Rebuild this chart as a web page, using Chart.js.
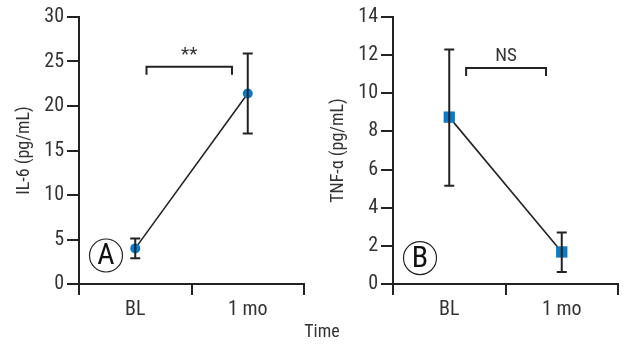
<!DOCTYPE html>
<html>
<head>
<meta charset="utf-8">
<script src="https://cdn.jsdelivr.net/npm/chart.js@4/dist/chart.umd.min.js"></script>
<style>
  body { margin: 0; background: #fff; }
  #wrap { position: relative; width: 628px; height: 344px; }
  .box { position: absolute; top: 0; width: 314px; height: 344px; }
  #timeLabel { position: absolute; left: 0; width: 644px; top: 320px; text-align: center;
    font: 18px 'Liberation Sans Narrow', 'Roboto Condensed', Roboto, sans-serif; color: #333; }
</style>
</head>
<body>
<div id="wrap">
  <div class="box" style="left:0"><canvas id="il6Chart"></canvas></div>
  <div class="box" style="left:314px"><canvas id="tnfChart"></canvas></div>
  <div id="timeLabel">Time</div>
</div>
<script>
// Categories
const timepoints = ["BL", "1 mo"]

// IL-6 (pg/mL): mean, upper and lower error bar ends
const il6Mean = [4.0, 21.4]
const il6Upper = [5.1, 25.9]
const il6Lower = [2.9, 16.9]

// TNF-alpha (pg/mL)
const tnfMean = [8.75, 1.68]
const tnfUpper = [12.3, 2.7]
const tnfLower = [5.15, 0.63]

const fontFamily = "'Liberation Sans Narrow', 'Roboto Condensed', Roboto, sans-serif"
const ink = "#222"
const blue = "#0a7bc8"

// Draws error bars, the significance bracket and the panel letter
const extrasPlugin = {
  id: "extras",
  afterDatasetsDraw(chart, args, opts) {
    const ctx = chart.ctx
    const xs = chart.scales.x
    const ys = chart.scales.y
    ctx.save()
    ctx.strokeStyle = ink
    ctx.lineWidth = 2
    // error bars
    opts.upper.forEach((up, i) => {
      const x = xs.getPixelForValue(i)
      const yTop = ys.getPixelForValue(up)
      const yBot = ys.getPixelForValue(opts.lower[i])
      ctx.beginPath()
      ctx.moveTo(x, yTop); ctx.lineTo(x, yBot)
      ctx.moveTo(x - 5, yTop); ctx.lineTo(x + 5, yTop)
      ctx.moveTo(x - 5, yBot); ctx.lineTo(x + 5, yBot)
      ctx.stroke()
    })
    // bracket
    const b = opts.bracket
    const bx1 = xs.getPixelForValue(b.from)
    const bx2 = xs.getPixelForValue(b.to)
    const by = ys.getPixelForValue(b.y)
    const byLeg = ys.getPixelForValue(b.leg)
    ctx.beginPath()
    ctx.moveTo(bx1, byLeg); ctx.lineTo(bx1, by); ctx.lineTo(bx2, by); ctx.lineTo(bx2, byLeg)
    ctx.stroke()
    ctx.fillStyle = "#333"
    ctx.font = "19px " + fontFamily
    ctx.textAlign = "center"
    ctx.textBaseline = "bottom"
    ctx.fillText(b.text, (bx1 + bx2) / 2, by - 2)
    // panel letter
    const lx = xs.getPixelForValue(opts.letter.x)
    const ly = ys.getPixelForValue(opts.letter.y)
    ctx.lineWidth = 1.2
    ctx.beginPath()
    ctx.arc(lx, ly, 16.5, 0, Math.PI * 2)
    ctx.stroke()
    ctx.fillStyle = "#111"
    ctx.font = "30px " + fontFamily
    ctx.textBaseline = "middle"
    ctx.fillText(opts.letter.text, lx, ly + 1)
    ctx.restore()
  },
}

function makeChart(id, mean, upper, lower, yMax, step, yTitle, pointStyle, radius, bracket, letter) {
  return new Chart(document.getElementById(id), {
    type: "line",
    data: {
      labels: timepoints,
      datasets: [{
        data: mean,
        borderColor: ink,
        borderWidth: 1.6,
        backgroundColor: blue,
        pointBackgroundColor: blue,
        pointBorderWidth: 0,
        pointStyle: pointStyle,
        pointRadius: radius,
        tension: 0,
      }],
    },
    options: {
      responsive: true,
      maintainAspectRatio: false,
      animation: false,
      layout: { padding: { top: 17, right: 10, bottom: 0, left: 0 } },
      plugins: {
        legend: { display: false },
        tooltip: { enabled: false },
        extras: { upper: upper, lower: lower, bracket: bracket, letter: letter },
      },
      scales: {
        x: {
          type: "category",
          offset: true,
          grid: { offset: true, drawOnChartArea: false, drawTicks: true, tickLength: 11, color: ink, lineWidth: 2 },
          border: { color: ink, width: 2 },
          ticks: { color: "#333", font: { family: fontFamily, size: 20 }, padding: 3 },
          afterFit(scale) { scale.height = 60 },
        },
        y: {
          min: 0,
          max: yMax,
          ticks: { stepSize: step, color: "#333", font: { family: fontFamily, size: 20 }, padding: 3 },
          grid: { drawOnChartArea: false, drawTicks: true, tickLength: 12, color: ink, lineWidth: 2 },
          border: { color: ink, width: 2 },
          title: { display: true, text: yTitle, color: "#333", font: { family: fontFamily, size: 18 }, padding: { top: 14, bottom: 0 } },
          afterFit(scale) { scale.width = 79 },
        },
      },
    },
    plugins: [extrasPlugin],
  })
}

document.addEventListener("DOMContentLoaded", () => {
  makeChart("il6Chart", il6Mean, il6Upper, il6Lower, 30, 5, "IL-6 (pg/mL)", "circle", 5,
    { from: 0.1, to: 0.86, y: 24.4, leg: 23.5, text: "**" },
    { x: -0.26, y: 3.2, text: "A" })
  makeChart("tnfChart", tnfMean, tnfUpper, tnfLower, 14, 2, "TNF-\u03b1 (pg/mL)", "rect", 8,
    { from: 0.15, to: 0.86, y: 11.33, leg: 10.9, text: "NS" },
    { x: -0.26, y: 1.36, text: "B" })
})
</script>
</body>
</html>
